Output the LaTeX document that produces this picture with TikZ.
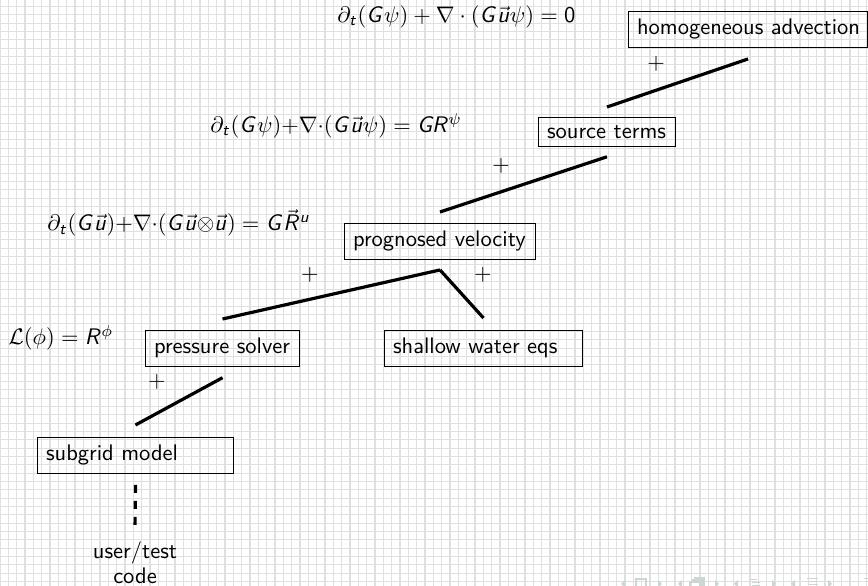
\documentclass[tikz,border=0pt]{standalone}
\usetikzlibrary{calc}
\renewcommand{\familydefault}{\sfdefault}
% sans-serif slanted latin letters and upright digits in formulas
\DeclareSymbolFont{sfslanted}{OT1}{cmss}{m}{sl}
\DeclareSymbolFont{sfupright}{OT1}{cmss}{m}{n}
\DeclareMathSymbol{G}{\mathalpha}{sfslanted}{`G}
\DeclareMathSymbol{R}{\mathalpha}{sfslanted}{`R}
\DeclareMathSymbol{u}{\mathalpha}{sfslanted}{`u}
\DeclareMathSymbol{t}{\mathalpha}{sfslanted}{`t}
\DeclareMathSymbol{0}{\mathalpha}{sfupright}{`0}
\definecolor{gridgray}{gray}{0.88}
\definecolor{navgray}{RGB}{205,213,213}
\begin{document}
\begin{tikzpicture}[x=0.4444pt, y=-0.4444pt,
  every node/.style={inner sep=0pt, font=\fontsize{10}{12}\selectfont},
  gridline/.style={draw=gridgray, line width=0.45pt},
  stage/.style={draw, line width=0.42pt, inner xsep=3.8pt, inner ysep=3.5pt, anchor=north west},
  formula/.style={anchor=base west},
  plus/.style={anchor=center},
  link/.style={line width=1.42pt},
  userlink/.style={line width=1.42pt, dash pattern=on 3.555pt off 3.555pt},
  navicon/.style={fill=navgray, draw=none}
]
\useasboundingbox (0,0) rectangle (868,586);
\clip (0,0) rectangle (868,586);

% background grid
\foreach \gx in {0,...,104} \draw[gridline] (\gx*8.3333,0) -- (\gx*8.3333,586);
\foreach \gy in {0,...,69} \draw[gridline] (0,6.6667+\gy*8.3333) -- (868,6.6667+\gy*8.3333);

% stages of the solver
\node[stage] (adv) at (628,11) {\makebox[98.7pt][l]{homogeneous advection}};
\node[stage] (src) at (538,117) {\makebox[53.3pt][l]{source terms}};
\node[stage] (prog) at (344,223) {\makebox[77.3pt][l]{prognosed velocity}};
\node[stage] (shallow) at (384,330) {\makebox[80.4pt][l]{shallow water eqs}};
\node[stage] (pres) at (145,330) {\makebox[60.9pt][l]{pressure solver}};
\node[stage] (subgrid) at (37,437) {\makebox[79.5pt][l]{subgrid model}};
\node[anchor=north, align=center, font=\fontsize{10}{11.1}\selectfont] (code) at (135,541) {user/test\\code};

% equations solved at each level
\node[formula] (eqadv) at (337,22.4) {$\partial_t(G\psi) + \nabla\cdot(G\vec u\psi) = 0$};
\node[formula] (eqsrc) at (210,132.5) {$\partial_t(G\psi){+}\nabla{\cdot}(G\vec u\psi) = GR^\psi$};
\node[formula] (eqvel) at (47,231) {$\partial_t(G\vec u){+}\nabla{\cdot}(G\vec u{\otimes}\vec u) = G\vec R^u$};
\node[formula] (eqpres) at (8,345) {$\mathcal{L}(\phi) = R^\phi$};

% plus signs on the links
\node[plus] (p1) at (656,63.5) {$+$};
\node[plus] (p2) at (501,166) {$+$};
\node[plus] (p3) at (310,275) {$+$};
\node[plus] (p4) at (483,275) {$+$};
\node[plus] (p5) at (157,382) {$+$};

% links between stages
\draw[link] ($(adv.south)+(0,11)$) -- ($(src.north)+(0,-10)$);
\draw[link] ($(src.south)+(0,10)$) -- ($(prog.north)+(0,-11)$);
\draw[link] ($(prog.south)+(0,10)$) -- ($(pres.north)+(0,-11)$);
\draw[link] ($(prog.south)+(0,10)$) -- ($(shallow.north)+(0,-12)$);
\draw[link] ($(pres.south)+(0,11)$) -- ($(subgrid.north)+(0,-12)$);
\draw[userlink] ($(subgrid.south)+(0,11)$) -- ($(code.north)+(0,-9)$);

% navigation symbols
\begin{scope}[navicon]
  \fill (625,580) -- (621,584) -- (625,588) -- cycle;
  \draw[navgray, line width=0.6pt] (636,579) rectangle (646,592);
  \fill (658,580) -- (662,584) -- (658,588) -- cycle;
  \fill (682,580) -- (678,584) -- (682,588) -- cycle;
  \draw[navgray, line width=0.6pt] (690,582) rectangle (700,592);
  \draw[navgray, line width=0.6pt] (692,580) -- (702,580) -- (702,590);
  \draw[navgray, line width=0.6pt] (694,578) -- (704,578) -- (704,588);
  \fill (715,580) -- (719,584) -- (715,588) -- cycle;
  \fill (738,580) -- (734,584) -- (738,588) -- cycle;
  \fill (749,579) rectangle (757,580.2);
  \fill (752,582) rectangle (760,583.2);
  \fill (752,585) rectangle (760,586.2);
  \fill (772,580) -- (776,584) -- (772,588) -- cycle;
  \fill (795,580) -- (791,584) -- (795,588) -- cycle;
  \fill (807,578) rectangle (818,579.4);
  \fill (809,581) rectangle (818,582.4);
  \fill (809,584) rectangle (818,585.4);
  \fill (828,580) -- (832,584) -- (828,588) -- cycle;
  \fill (864,578) rectangle (868,579.4);
  \fill (866,581) rectangle (868,582.4);
\end{scope}
\end{tikzpicture}
\end{document}
